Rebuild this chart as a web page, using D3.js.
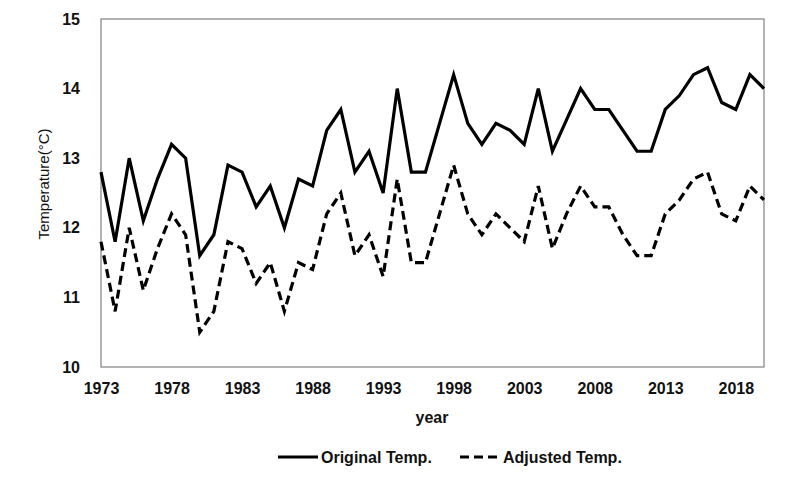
<!DOCTYPE html>
<html>
<head>
<meta charset="utf-8">
<script src="https://cdn.jsdelivr.net/npm/d3@7"></script>
<style>
  html, body { margin: 0; padding: 0; background: #fff; }
  svg { display: block; }
  text { font-family: "Liberation Sans", Arial, sans-serif; fill: #111; }
</style>
</head>
<body>
<svg id="chart" width="800" height="489"></svg>
<script>
const years = d3.range(1973, 2021);
const originalTemp = [12.8, 11.8, 13.0, 12.1, 12.7, 13.2, 13.0, 11.6, 11.9, 12.9,
  12.8, 12.3, 12.6, 12.0, 12.7, 12.6, 13.4, 13.7, 12.8, 13.1,
  12.5, 14.0, 12.8, 12.8, 13.5, 14.2, 13.5, 13.2, 13.5, 13.4,
  13.2, 14.0, 13.1, 13.55, 14.0, 13.7, 13.7, 13.4, 13.1, 13.1,
  13.7, 13.9, 14.2, 14.3, 13.8, 13.7, 14.2, 14.0];
const adjustedTemp = [11.8, 10.8, 12.0, 11.1, 11.7, 12.2, 11.9, 10.5, 10.8, 11.8,
  11.7, 11.2, 11.5, 10.8, 11.5, 11.4, 12.2, 12.5, 11.6, 11.9,
  11.3, 12.7, 11.5, 11.5, 12.2, 12.9, 12.2, 11.9, 12.2, 12.0,
  11.8, 12.6, 11.7, 12.2, 12.6, 12.3, 12.3, 11.9, 11.6, 11.6,
  12.2, 12.4, 12.7, 12.8, 12.2, 12.1, 12.6, 12.4];
const xTicks = [1973, 1978, 1983, 1988, 1993, 1998, 2003, 2008, 2013, 2018];
const yTicks = [10, 11, 12, 13, 14, 15];
const seriesNames = ["Original Temp.", "Adjusted Temp."];
const seriesDash = [null, "9,5"];

const svg = d3.select("#chart");
const mLeft = 101, mRight = 764, mTop = 19, mBottom = 367;

const x = d3.scaleLinear().domain([1973, 2020]).range([mLeft, mRight]);
const y = d3.scaleLinear().domain([10, 15]).range([mBottom, mTop]);

// plot border
svg.append("rect")
  .attr("x", mLeft).attr("y", mTop)
  .attr("width", mRight - mLeft).attr("height", mBottom - mTop)
  .attr("fill", "none").attr("stroke", "#808080").attr("stroke-width", 1.2);

// x axis
const xAxis = d3.axisBottom(x).tickValues(xTicks).tickFormat(d3.format("d")).tickSize(0).tickPadding(16);
const gx = svg.append("g").attr("transform", `translate(0,${mBottom})`).call(xAxis);
gx.select(".domain").remove();
gx.selectAll("text").style("font-size", "16px").style("font-weight", "bold")
  .attr("font-family", "Liberation Sans, Arial, sans-serif").attr("fill", "#111");

// y axis
const yAxis = d3.axisLeft(y).tickValues(yTicks).tickFormat(d3.format("d")).tickSize(0).tickPadding(21);
const gy = svg.append("g").attr("transform", `translate(${mLeft},0)`).call(yAxis);
gy.select(".domain").remove();
gy.selectAll("text").style("font-size", "16px").style("font-weight", "bold")
  .attr("font-family", "Liberation Sans, Arial, sans-serif").attr("fill", "#111");

// axis titles
svg.append("text")
  .attr("transform", `translate(49,${(mTop + mBottom) / 2 - 9}) rotate(-90)`)
  .attr("text-anchor", "middle")
  .style("font-size", "15px")
  .text("Temperature(°C)");

svg.append("text")
  .attr("x", 432).attr("y", 423)
  .attr("text-anchor", "middle")
  .style("font-size", "16px").style("font-weight", "bold")
  .text("year");

// lines
const series = [originalTemp, adjustedTemp];
const line = d3.line().x((d, i) => x(years[i])).y(d => y(d));
series.forEach((vals, k) => {
  svg.append("path")
    .datum(vals)
    .attr("d", line)
    .attr("fill", "none")
    .attr("stroke", "#000")
    .attr("stroke-width", 3.2)
    .attr("stroke-linejoin", "miter")
    .attr("stroke-dasharray", seriesDash[k]);
});

// legend
const legendX = [278, 460];
const lg = svg.append("g");
seriesNames.forEach((name, k) => {
  lg.append("line")
    .attr("x1", legendX[k]).attr("x2", legendX[k] + 40)
    .attr("y1", 457).attr("y2", 457)
    .attr("stroke", "#000").attr("stroke-width", 3.2)
    .attr("stroke-dasharray", seriesDash[k]);
  lg.append("text")
    .attr("x", legendX[k] + 43).attr("y", 463)
    .style("font-size", "16px").style("font-weight", "bold")
    .text(name);
});
</script>
</body>
</html>
